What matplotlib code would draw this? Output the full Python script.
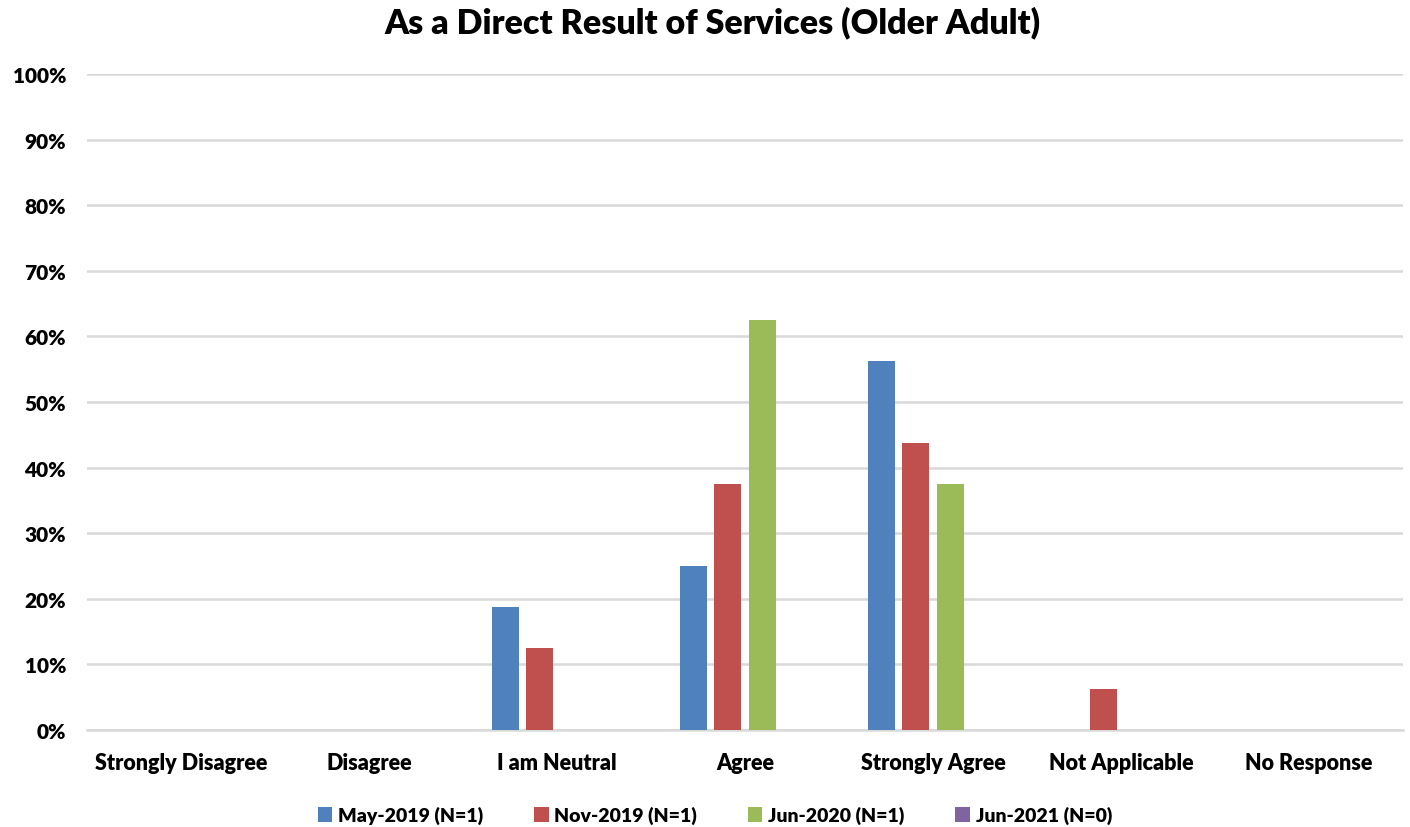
import matplotlib
matplotlib.use("Agg")
import matplotlib.pyplot as plt
import numpy as np

plt.rcParams['font.family'] = ['Lato', 'DejaVu Sans']

categories = ["Strongly Disagree", "Disagree", "I am Neutral", "Agree",
              "Strongly Agree", "Not Applicable", "No Response"]
series = ["May-2019 (N=1)", "Nov-2019 (N=1)", "Jun-2020 (N=1)", "Jun-2021 (N=0)"]
may_2019 = [0, 0, 18.75, 25.0, 56.25, 0, 0]
nov_2019 = [0, 0, 12.5, 37.5, 43.75, 6.25, 0]
jun_2020 = [0, 0, 0, 62.5, 37.5, 0, 0]
jun_2021 = [0, 0, 0, 0, 0, 0, 0]
colors = ["#4f81bd", "#c0504d", "#9bbb59", "#8064a2"]

values = [may_2019, nov_2019, jun_2020, jun_2021]
W = 'heavy'

fig = plt.figure(figsize=(14.1, 8.28), dpi=100)
ax = fig.add_axes([0.0617, 0.1171, 0.9333, 0.7923])

x = np.arange(len(categories))
step = 0.183
width = 0.145
for i, (name, vals, c) in enumerate(zip(series, values, colors)):
    ax.bar(x + (i - 1.5) * step, vals, width, color=c, label=name, zorder=3)

ax.set_xlim(-0.5, len(categories) - 0.5)
ax.set_ylim(0, 100)
ax.set_yticks(np.arange(0, 101, 10))
ax.set_yticklabels([f"{v}%" for v in range(0, 101, 10)], fontsize=15, fontweight=W)
ax.set_xticks(x)
ax.set_xticklabels(categories, fontsize=15.5, fontweight=W)
ax.tick_params(axis='both', length=0)
ax.tick_params(axis='x', pad=16)
ax.tick_params(axis='y', pad=15)
ax.grid(axis='y', color='#d9d9d9', linewidth=1.8, zorder=0)
for s in ['top', 'right', 'left']:
    ax.spines[s].set_visible(False)
ax.spines['bottom'].set_color('#d9d9d9')
ax.spines['bottom'].set_linewidth(1.8)

fig.suptitle("As a Direct Result of Services (Older Adult)", fontsize=24.5,
             fontweight=W, x=0.505, y=0.992)

leg = fig.legend(loc='lower center', bbox_to_anchor=(0.507, -0.018), ncol=4,
                 frameon=False, prop={'size': 14, 'weight': W},
                 handlelength=0.75, handleheight=0.75,
                 handletextpad=0.3, columnspacing=2.6)

fig.savefig("out.png", dpi=100)
